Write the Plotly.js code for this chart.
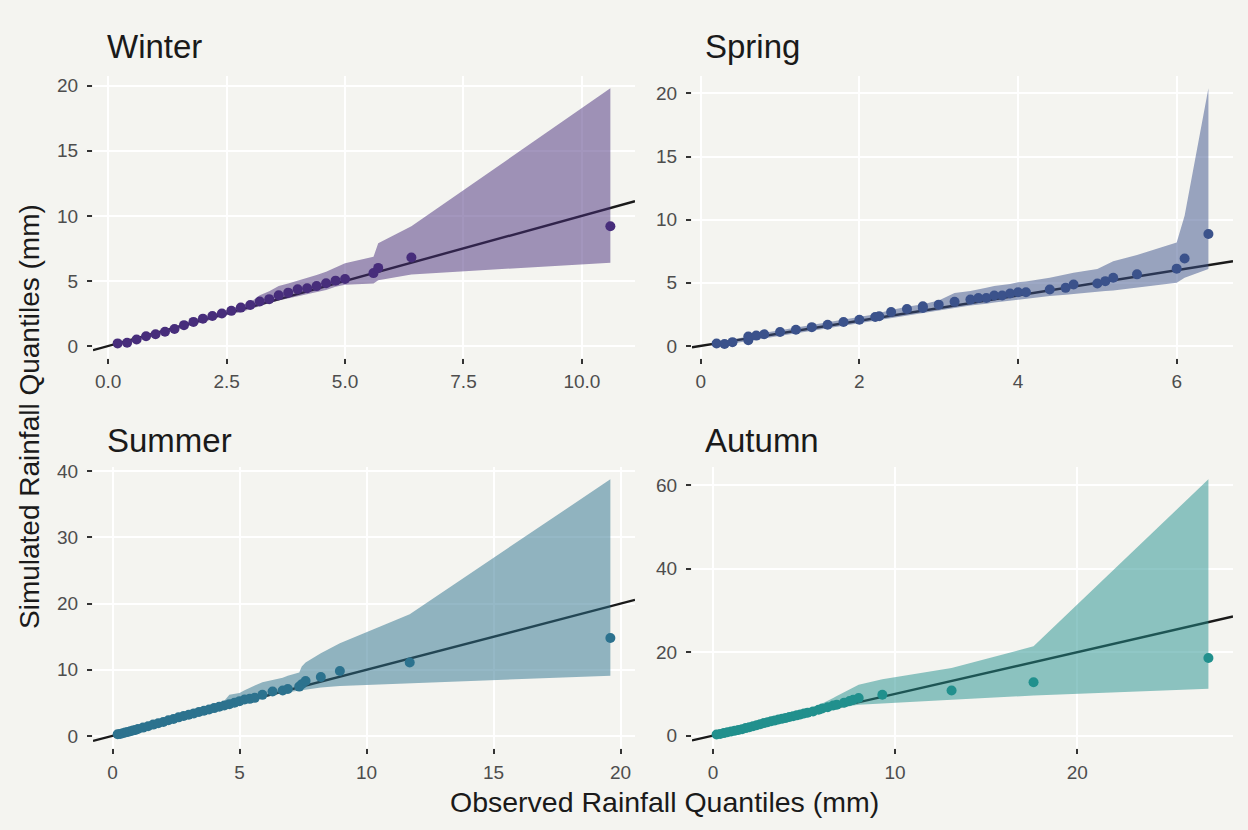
<!DOCTYPE html>
<html><head><meta charset="utf-8">
<script src="https://cdn.plot.ly/plotly-3.0.1.min.js"></script>
<style>html,body{margin:0;padding:0;background:#f4f4f0}</style>
</head><body><div id="chart" style="width:1248px;height:830px"></div>
<script>
const seasons = ['Winter', 'Spring', 'Summer', 'Autumn'];
const seasonColors = ['#472d7b', '#3b528b', '#2c728e', '#21908d'];

// Winter
const winterObs   = [0.2,0.4,0.6,0.8,1.0,1.2,1.4,1.6,1.8,2.0,2.2,2.4,2.6,2.8,3.0,3.2,3.4,3.6,3.8,4.0,4.2,4.4,4.6,4.8,5.0,5.6,5.7,6.4,10.6];
const winterSim   = [0.2,0.25,0.5,0.75,0.9,1.1,1.3,1.6,1.85,2.1,2.3,2.5,2.7,2.95,3.15,3.42,3.6,3.9,4.1,4.36,4.44,4.6,4.82,5.02,5.15,5.6,6.0,6.8,9.2];
const winterLower = [0.1,0.2,0.4,0.6,0.8,1.0,1.2,1.45,1.65,1.85,2.05,2.25,2.45,2.6,2.8,3.05,3.3,3.5,3.65,3.85,4.0,4.15,4.3,4.55,4.7,4.8,5.05,5.5,6.4];
const winterUpper = [0.3,0.4,0.65,0.85,1.05,1.3,1.5,1.75,1.95,2.2,2.4,2.65,2.85,3.1,3.35,3.9,4.2,4.6,4.8,5.0,5.2,5.45,5.7,6.0,6.35,6.85,7.9,9.2,19.8];

// Spring
const springObs   = [0.2,0.3,0.4,0.6,0.6,0.7,0.8,1.0,1.2,1.4,1.6,1.8,2.0,2.2,2.25,2.4,2.6,2.8,2.8,3.0,3.2,3.4,3.5,3.6,3.7,3.8,3.9,4.0,4.1,4.4,4.6,4.7,5.0,5.1,5.2,5.5,6.0,6.1,6.4];
const springSim   = [0.2,0.16,0.3,0.45,0.75,0.82,0.93,1.1,1.28,1.49,1.68,1.89,2.07,2.29,2.35,2.69,2.93,3.0,3.14,3.27,3.49,3.67,3.8,3.8,4.0,4.0,4.15,4.25,4.25,4.47,4.6,4.87,4.95,5.13,5.4,5.67,6.12,6.92,8.86];
const springLower = [0.1,0.1,0.2,0.4,0.4,0.5,0.6,0.85,1.05,1.25,1.45,1.65,1.85,2.05,2.1,2.25,2.45,2.6,2.6,2.8,3.0,3.2,3.3,3.35,3.45,3.55,3.6,3.67,3.75,3.95,4.05,4.1,4.28,4.35,4.4,4.6,5.0,5.4,6.1];
const springUpper = [0.3,0.35,0.5,0.8,0.8,0.9,1.05,1.25,1.45,1.65,1.85,2.05,2.3,2.5,2.6,2.85,3.1,3.3,3.3,3.6,4.2,4.35,4.45,4.6,4.75,4.8,4.9,5.05,5.1,5.4,5.7,5.8,6.1,6.4,6.7,7.2,8.2,10.3,20.4];

// Summer
const summerObs   = [0.2,0.3,0.4,0.5,0.6,0.7,0.8,0.9,1.0,1.2,1.4,1.6,1.8,2.0,2.2,2.4,2.6,2.8,3.0,3.2,3.4,3.6,3.8,4.0,4.2,4.4,4.6,4.8,5.0,5.2,5.4,5.6,5.9,6.3,6.7,6.9,7.35,7.45,7.6,8.2,8.95,11.7,19.6];
const summerSim   = [0.25,0.3,0.4,0.5,0.6,0.7,0.82,0.9,1.05,1.25,1.45,1.7,1.9,2.1,2.35,2.55,2.8,3.0,3.2,3.4,3.6,3.8,4.0,4.2,4.4,4.6,4.8,5.0,5.25,5.5,5.6,5.75,6.2,6.7,6.85,7.1,7.45,7.8,8.3,8.9,9.8,11.1,14.8];
const summerLower = [0.1,0.15,0.25,0.35,0.45,0.55,0.65,0.75,0.85,1.05,1.25,1.45,1.65,1.85,2.05,2.25,2.5,2.7,2.9,3.1,3.3,3.5,3.7,3.85,4.0,4.3,4.5,4.6,4.7,4.9,5.1,5.3,5.8,6.1,6.5,6.6,6.85,6.9,7.0,7.3,7.55,7.9,9.1];
const summerUpper = [0.4,0.45,0.55,0.65,0.75,0.85,0.95,1.05,1.2,1.4,1.65,1.9,2.1,2.35,2.6,2.8,3.05,3.3,3.5,3.7,3.9,4.1,4.3,4.5,4.9,5.3,6.2,6.4,6.5,6.9,7.3,7.6,8.1,8.4,8.8,9.1,9.6,10.5,11.1,12.5,14.0,18.4,38.8];

// Autumn
const autumnObs   = [0.2,0.4,0.6,0.8,1.0,1.2,1.4,1.6,1.8,2.0,2.2,2.4,2.6,2.8,3.0,3.2,3.4,3.6,3.8,4.0,4.2,4.4,4.6,4.8,5.0,5.2,5.5,5.8,6.0,6.3,6.6,6.8,7.2,7.5,7.7,8.0,9.3,13.1,17.6,27.2];
const autumnSim   = [0.25,0.4,0.6,0.8,1.0,1.15,1.35,1.55,1.8,2.0,2.25,2.5,2.75,3.0,3.2,3.45,3.65,3.85,4.05,4.25,4.45,4.65,4.85,5.05,5.3,5.5,5.8,6.2,6.5,6.8,7.2,7.4,7.9,8.3,8.6,9.0,9.8,10.8,12.8,18.6];
const autumnLower = [0.1,0.25,0.45,0.6,0.8,0.95,1.15,1.35,1.55,1.75,1.95,2.15,2.35,2.55,2.75,2.95,3.1,3.3,3.5,3.7,3.85,4.0,4.2,4.4,4.55,4.75,5.0,5.3,5.5,5.8,6.1,6.3,6.7,7.0,7.2,7.4,7.8,8.6,9.6,11.2];
const autumnUpper = [0.4,0.6,0.8,1.0,1.2,1.4,1.6,1.8,2.05,2.3,2.5,2.75,3.0,3.25,3.5,3.75,4.0,4.2,4.45,4.7,4.95,5.2,5.5,5.8,6.1,6.4,6.8,7.3,7.7,8.3,9.0,9.5,10.4,11.0,11.5,12.2,13.5,16.2,21.4,61.4];

// 1:1 reference line
const refIntercept = 0;
const refSlope = 1;

// Tick labels
const winterXTicks = [0, 2.5, 5, 7.5, 10];
const winterXText  = ['0.0', '2.5', '5.0', '7.5', '10.0'];
const winterYTicks = [0, 5, 10, 15, 20];
const springXTicks = [0, 2, 4, 6];
const springYTicks = [0, 5, 10, 15, 20];
const summerXTicks = [0, 5, 10, 15, 20];
const summerYTicks = [0, 10, 20, 30, 40];
const autumnXTicks = [0, 10, 20];
const autumnYTicks = [0, 20, 40, 60];

const xTitle = 'Observed Rainfall Quantiles (mm)';
const yTitle = 'Simulated Rainfall Quantiles (mm)';

const panels = [
  {obs: winterObs, sim: winterSim, lo: winterLower, hi: winterUpper, xt: winterXTicks, xtt: winterXText, yt: winterYTicks},
  {obs: springObs, sim: springSim, lo: springLower, hi: springUpper, xt: springXTicks, xtt: springXTicks.map(String), yt: springYTicks},
  {obs: summerObs, sim: summerSim, lo: summerLower, hi: summerUpper, xt: summerXTicks, xtt: summerXTicks.map(String), yt: summerYTicks},
  {obs: autumnObs, sim: autumnSim, lo: autumnLower, hi: autumnUpper, xt: autumnXTicks, xtt: autumnXTicks.map(String), yt: autumnYTicks}
];

const W = 1248, H = 830;
const colDom = [[93 / W, 635 / W], [692 / W, 1233 / W]];
const rowDom = [[1 - 357.5 / H, 1 - 75.5 / H], [1 - 748 / H, 1 - 466.5 / H]];
const bg = '#f4f4f0';
const font = 'Liberation Sans, Arial, Helvetica, sans-serif';

function hexA(hex, a) {
  const n = parseInt(hex.slice(1), 16);
  return 'rgba(' + (n >> 16) + ',' + ((n >> 8) & 255) + ',' + (n & 255) + ',' + a + ')';
}
function expand(vals) {
  const mn = Math.min(...vals), mx = Math.max(...vals);
  const pad = (mx - mn) * 0.05;
  return [mn - pad, mx + pad];
}

const traces = [];
const layout = {
  width: W, height: H,
  paper_bgcolor: bg, plot_bgcolor: bg,
  margin: {l: 0, r: 0, t: 0, b: 0},
  showlegend: false,
  font: {family: font, color: '#4d4d4d'},
  annotations: []
};

panels.forEach((p, i) => {
  const sfx = i === 0 ? '' : String(i + 1);
  const xa = 'x' + sfx, ya = 'y' + sfx;
  const xr = expand(p.obs);
  const yr = expand(p.sim.concat(p.lo, p.hi));
  traces.push({
    x: xr, y: xr.map(v => refIntercept + refSlope * v),
    xaxis: xa, yaxis: ya, mode: 'lines', type: 'scatter',
    line: {color: '#1a1a1a', width: 2.4}, hoverinfo: 'skip'
  });
  traces.push({
    x: p.obs.concat(p.obs.slice().reverse()),
    y: p.hi.concat(p.lo.slice().reverse()),
    xaxis: xa, yaxis: ya, mode: 'lines', type: 'scatter',
    fill: 'toself', fillcolor: hexA(seasonColors[i], 0.5),
    line: {width: 0, color: 'rgba(0,0,0,0)'}, hoverinfo: 'skip'
  });
  traces.push({
    x: p.obs, y: p.sim, xaxis: xa, yaxis: ya,
    mode: 'markers', type: 'scatter',
    marker: {color: seasonColors[i], size: 10}
  });
  const col = i % 2, row = Math.floor(i / 2);
  const axCommon = {
    showgrid: true, gridcolor: '#ffffff', gridwidth: 2,
    zeroline: false, showline: false,
    ticks: 'outside', ticklen: 5, tickwidth: 2, tickcolor: '#333333',
    ticklabelstandoff: 5,
    tickfont: {family: font, size: 19, color: '#4d4d4d'}
  };
  layout['xaxis' + sfx] = Object.assign({}, axCommon, {
    domain: colDom[col], anchor: ya, range: xr,
    tickmode: 'array', tickvals: p.xt, ticktext: p.xtt, ticklabelstandoff: 2
  });
  layout['yaxis' + sfx] = Object.assign({}, axCommon, {
    domain: rowDom[row], anchor: xa, range: yr,
    tickmode: 'array', tickvals: p.yt, ticktext: p.yt.map(String)
  });
  layout.annotations.push({
    text: seasons[i], xref: 'paper', yref: 'paper',
    x: (col === 0 ? 105 : 703) / W, y: 1 - (row === 0 ? 47 : 440) / H,
    xanchor: 'left', yanchor: 'middle', showarrow: false,
    font: {family: font, size: 33, color: '#1a1a1a'}
  });
});

layout.annotations.push({
  text: xTitle, xref: 'paper', yref: 'paper', x: 664 / W, y: 1 - 802 / H,
  xanchor: 'center', yanchor: 'middle', showarrow: false,
  font: {family: font, size: 28.5, color: '#1a1a1a'}
});
layout.annotations.push({
  text: yTitle, xref: 'paper', yref: 'paper', x: 30 / W, y: 1 - 417 / H,
  xanchor: 'center', yanchor: 'middle', showarrow: false, textangle: -90,
  font: {family: font, size: 28, color: '#1a1a1a'}
});

Plotly.newPlot('chart', traces, layout, {displayModeBar: false, staticPlot: true});
</script>
</body></html>
